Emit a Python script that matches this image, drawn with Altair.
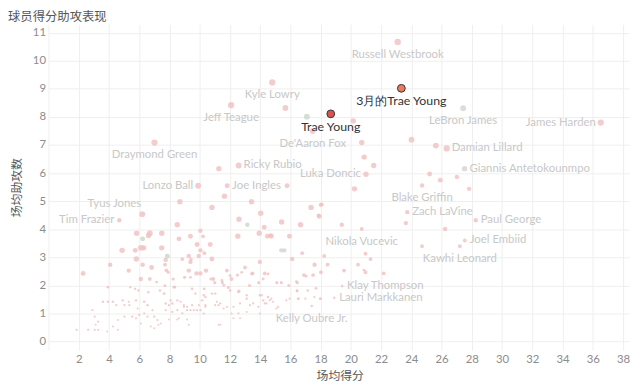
import altair as alt
import pandas as pd

# ---- labeled players: name, points per game, assists per game, size, colour group
lab_names = ["Russell Westbrook", "Kyle Lowry", "Jeff Teague", "De'Aaron Fox", "Draymond Green",
             "Ricky Rubio", "Lonzo Ball", "Joe Ingles", "Luka Doncic", "LeBron James", "James Harden",
             "Damian Lillard", "Giannis Antetokounmpo", "Blake Griffin", "Zach LaVine", "Paul George",
             "Joel Embiid", "Kawhi Leonard", "Nikola Vucevic", "Klay Thompson", "Lauri Markkanen",
             "Kelly Oubre Jr.", "Tim Frazier", "Tyus Jones"]
lab_pts = [23.1, 14.8, 12.08, 17.48, 7.01, 12.58, 9.9, 11.82, 21.0, 27.43, 36.53, 26.34, 27.52,
           24.71, 23.73, 28.26, 27.54, 27.21, 20.72, 19.42, 18.9, 17.41, 4.68, 6.2]
lab_ast = [10.67, 9.23, 8.42, 7.5, 7.09, 6.27, 5.55, 5.55, 5.96, 8.31, 7.8, 6.88, 6.16, 5.56,
           4.61, 4.32, 3.6, 3.4, 4.01, 1.98, 1.56, 1.27, 4.32, 4.54]
lab_size = [42, 40, 40, 35, 40, 35, 35, 25, 30, 35, 40, 40, 30, 20, 20, 20, 15, 15, 15, 8, 6, 6, 20, 35]
lab_grp = ["p", "p", "p", "p", "p", "p", "p", "p", "p", "s", "p", "p", "s", "p", "p", "p",
           "p", "p", "p", "p", "p", "p", "p", "p"]
lab_pos = ["below", "below", "below", "below", "below", "right", "left", "right", "left", "below",
           "left", "right", "right", "below", "right", "right", "right", "below", "below", "right",
           "right", "below", "left", "upleft"]

# ---- other players (unlabeled)
other_pts = [15.67, 11.27, 15.78, 20.16, 20.72, 20.88, 21.51, 20.24, 25.62, 24.01, 25.21, 25.92,
             27.01, 27.82, 23.64, 26.23, 24.71, 17.09,
             2.29, 4.08, 5.83, 6.7, 6.62, 7.49, 6.23, 4.87, 5.74, 6.11, 6.3, 7.49, 5.81, 6.23, 6.82,
             5.31, 6.11, 6.7, 7.86, 7.75, 7.71, 7.8, 8.52, 8.69, 8.63, 9.39, 10.05, 9.83, 10.05,
             9.28, 9.94, 9.39, 8.85, 10.31, 10.81, 10.7, 10.81, 10.22, 9.28, 9.79, 10.05, 10.42,
             11.64, 12.6, 12.52, 13.43, 14.04, 13.94, 14.27, 14.48, 14.74, 15.42, 15.94, 16.12,
             16.67, 16.78, 17.37, 13.15, 13.0, 13.5, 13.98, 14.3, 15.4, 15.6, 11.8, 12.1, 12.5,
             10.9, 11.0, 11.5, 11.9, 12.6, 13.3, 13.9, 15.1, 15.4, 15.9, 16.45, 16.45, 16.9, 17.5,
             17.6, 17.7, 18.02, 17.9, 19.4, 18.07, 17.87, 18.24, 18.46, 18.02, 19.55, 20.47, 20.97,
             21.3, 20.97, 22.17, 17.96, 14.7,
             3.93, 3.6, 3.93, 4.26, 4.48, 4.91, 5.02, 5.35, 5.31, 2.9, 3.06, 3.28, 3.12, 1.86, 2.62,
             3.06, 3.28, 3.89, 4.26, 4.59, 5.53, 5.79, 6.0, 6.12, 6.33, 6.55, 6.88, 6.99, 7.21, 7.43,
             7.75, 8.19, 8.52, 8.85, 8.96, 9.5, 9.83, 10.05, 10.38, 7.65, 8.08, 8.52, 5.02, 4.59,
             5.79, 5.9, 6.33, 6.55, 6.77, 6.99, 7.27, 8.63, 9.28, 10.16, 10.38, 11.03, 11.36, 11.58,
             12.23, 12.56, 12.67, 13.11, 13.32, 13.98, 14.2, 14.31, 14.64, 14.85, 15.07, 15.73,
             15.95, 16.49, 17.15, 17.58, 11.25, 12.23,
             9.39, 11.47, 12.01, 12.78, 13.43, 14.2, 14.52, 8.3, 9.5, 9.72, 10.27, 10.81, 11.03,
             12.01, 12.56, 13.11, 14.09, 14.52, 7.97, 8.74, 8.96, 9.17, 9.61, 9.94, 10.38, 11.14,
             11.25, 11.8, 12.67, 13.54, 13.87, 14.42, 7.75, 8.19, 9.17, 9.39, 10.27, 12.12, 13.11,
             13.98, 7.97, 8.52, 9.17, 11.36,
             16.4, 17.04, 20.86, 16.43, 14.74, 15.18, 16.56, 16.99, 18.02,
             5.41, 5.73, 5.95, 6.6, 7.15, 7.37, 7.7, 7.92, 8.25, 8.35, 9.0, 9.43, 10.74, 10.3, 11.6]
other_ast = [8.32, 6.16, 5.55, 7.86, 7.09, 6.57, 6.27, 5.44, 6.98, 7.19, 5.97, 5.75,
             5.86, 5.44, 4.22, 4.01, 3.4, 8.01,
             2.43, 2.74, 3.86, 3.86, 3.78, 3.86, 3.66, 3.25, 3.25, 3.34, 3.34, 3.34, 2.94, 2.74, 2.64,
             2.53, 2.23, 2.23, 3.04, 2.91, 2.74, 2.54, 4.16, 4.98, 3.66, 3.75, 3.95, 3.46, 3.25,
             3.05, 3.05, 2.84, 2.94, 3.15, 4.78, 3.46, 2.94, 3.75, 2.53, 2.43, 2.43, 2.53,
             5.18, 4.36, 3.75, 4.98, 4.57, 3.86, 4.07, 3.75, 3.75, 4.26, 3.75, 2.94,
             4.16, 3.15, 4.78, 4.16, 2.64, 2.43, 2.84, 2.43, 3.25, 3.25, 2.53, 2.23, 2.37,
             2.23, 2.1, 2.1, 1.93, 1.8, 2.0, 2.1, 2.1, 2.1, 2.0, 2.1, 1.8, 2.37, 2.37,
             2.74, 1.9, 4.87, 4.46, 4.16, 4.89, 4.49, 3.05, 2.74, 2.47, 2.53, 2.74, 3.13,
             2.94, 2.47, 2.43, 1.53, 3.78,
             1.94, 1.42, 1.42, 1.42, 1.3, 1.47, 1.3, 1.3, 1.42, 1.12, 0.89, 0.71, 0.6, 0.42, 0.42,
             0.42, 0.42, 0.36, 0.54, 0.42, 0.89, 0.83, 0.95, 0.65, 1.42, 1.3, 1.12, 0.89, 0.77, 0.65,
             1.36, 1.36, 1.12, 1.01, 1.24, 1.3, 1.12, 1.12, 1.3, 1.71, 1.47, 1.47, 0.89, 0.77,
             1.47, 1.18, 1.01, 0.89, 0.54, 0.48, 0.6, 0.83, 0.6, 1.47, 1.59, 1.3, 1.36, 1.18,
             1.24, 1.01, 0.83, 1.53, 1.3, 1.65, 1.47, 1.36, 1.47, 1.42, 1.18, 1.47,
             1.53, 1.53, 1.82, 1.59, 0.6, 0.83,
             2.29, 2.18, 2.35, 2.47, 2.41, 2.23, 2.41, 1.94, 1.88, 1.71, 1.65, 1.71, 1.71,
             1.82, 1.77, 1.65, 1.65, 1.59, 1.3, 1.42, 1.3, 1.24, 1.12, 1.3, 1.24, 1.42,
             1.3, 1.24, 1.36, 1.36, 1.24, 1.36, 1.12, 1.06, 1.12, 1.12, 1.0, 1.0, 1.06,
             1.0, 0.79, 0.79, 0.79, 0.6,
             2.14, 2.33, 2.55, 1.82, 1.53, 1.24, 1.53, 1.53, 1.53,
             1.94, 1.88, 1.82, 1.76, 2.12, 1.82, 1.99, 2.47, 2.23, 1.94, 2.29, 2.93, 2.23, 1.88, 2.0]
other_size = [35, 30, 25, 30, 30, 30, 30, 30, 35, 35, 25, 25,
              20, 20, 20, 20, 15, 35,
              25, 20, 30, 35, 30, 30, 25, 30, 25, 35, 30, 30, 30, 20, 25,
              20, 20, 15, 25, 20, 15, 15, 30, 30, 25, 25, 20, 25, 20,
              20, 20, 20, 15, 15, 30, 25, 25, 15, 20, 20, 20, 20,
              30, 30, 30, 30, 30, 30, 25, 25, 25, 30, 25, 20,
              30, 15, 30, 20, 15, 15, 20, 15, 20, 20, 15, 15, 10,
              15, 10, 10, 10, 10, 10, 10, 10, 10, 10, 10, 8, 15, 15,
              20, 8, 20, 25, 20, 15, 15, 15, 15, 15, 15, 15, 15,
              15, 15, 15, 6, 20,
              8, 6, 6, 6, 5, 6, 5, 5, 5, 5, 5, 5, 4, 5, 5,
              5, 5, 4, 4, 4, 5, 5, 5, 4, 6, 6, 5, 5, 5, 4,
              6, 6, 5, 5, 5, 5, 5, 5, 5, 8, 6, 6, 5, 4,
              6, 5, 5, 5, 4, 4, 4, 4, 4, 6, 6, 5, 5, 5,
              5, 5, 4, 6, 5, 6, 6, 5, 5, 5, 5, 5,
              5, 5, 6, 5, 4, 4,
              8, 8, 8, 8, 8, 8, 8, 8, 8, 6, 6, 6, 6,
              6, 6, 6, 6, 6, 5, 5, 5, 5, 5, 5, 5, 5,
              5, 5, 5, 5, 5, 5, 5, 5, 5, 5, 5, 4, 4,
              4, 4, 4, 4, 4,
              8, 8, 8, 6, 5, 5, 5, 5, 5,
              6, 6, 6, 6, 8, 6, 8, 10, 10, 8, 10, 12, 10, 8, 8]
green_idx = [17, 24, 36, 75]
gray_idx = [80, 81]

# ---- Trae Young highlighted points
trae_names = ["Trae Young", "3月的Trae Young"]
trae_pts = [18.67, 23.34]
trae_ast = [8.11, 9.02]
trae_col = ["#d9534f", "#ec7a5c"]

x_ticks = list(range(0, 39, 2))
y_ticks = list(range(0, 12))

other_grp = ["p"] * len(other_pts)
for i in green_idx:
    other_grp[i] = "g"
for i in gray_idx:
    other_grp[i] = "s"

pts_df = pd.DataFrame({
    "pts": other_pts + lab_pts,
    "ast": other_ast + lab_ast,
    "size": other_size + lab_size,
    "grp": other_grp + lab_grp,
})
lab_df = pd.DataFrame({"name": lab_names, "pts": lab_pts, "ast": lab_ast, "pos": lab_pos})
trae_df = pd.DataFrame({"name": trae_names, "pts": trae_pts, "ast": trae_ast, "col": trae_col})

xs = alt.Scale(domain=[0, 38.4], nice=False, zero=False)
ys = alt.Scale(domain=[-0.3, 11.3], nice=False, zero=False)

X = alt.X("pts:Q", scale=xs, title="场均得分",
          axis=alt.Axis(values=x_ticks, labelExpr="datum.value == 0 ? '' : datum.label",
                        labelOverlap=False, labelFlush=False,
                        titleX=295, titleY=26, titleBaseline="middle", titleAlign="center"))
Y = alt.Y("ast:Q", scale=ys, title="场均助攻数",
          axis=alt.Axis(values=y_ticks, labelOverlap=False, labelFlush=False,
                        titleX=-32, titleY=165, titleBaseline="middle",
                        titleAlign="center", titleAngle=-90))

base = alt.Chart(pts_df)
points = base.mark_circle(opacity=0.8).encode(
    x=X, y=Y,
    size=alt.Size("size:Q", scale=None),
    color=alt.Color("grp:N", scale=alt.Scale(domain=["p", "g", "s"],
                                             range=["#f0c0c0", "#c6d8c6", "#d8d2d2"]), legend=None),
)

TXT = dict(font="Lato", fontSize=11.5, color="#c8c8c8")
lab = alt.Chart(lab_df)
below = lab.mark_text(align="center", baseline="middle", dy=13, **TXT).encode(
    x=X, y=Y, text="name:N").transform_filter("datum.pos == 'below'")
right = lab.mark_text(align="left", baseline="middle", dx=5, **TXT).encode(
    x=X, y=Y, text="name:N").transform_filter("datum.pos == 'right'")
left = lab.mark_text(align="right", baseline="middle", dx=-5, **TXT).encode(
    x=X, y=Y, text="name:N").transform_filter("datum.pos == 'left'")
upleft = lab.mark_text(align="right", baseline="middle", dx=-1, dy=-10, **TXT).encode(
    x=X, y=Y, text="name:N").transform_filter("datum.pos == 'upleft'")

trae = alt.Chart(trae_df)
trae_pts_layer = trae.mark_circle(size=62, opacity=1, stroke="#333333", strokeWidth=1).encode(
    x=X, y=Y, color=alt.Color("col:N", scale=None))
trae_txt = trae.mark_text(align="center", baseline="middle", dy=13, font="Lato", fontSize=12.5,
                          color="#333333").encode(x=X, y=Y, text="name:N")

chart = alt.layer(points, below, right, left, upleft, trae_pts_layer, trae_txt).properties(
    width=588, height=330,
    autosize=alt.AutoSizeParams(type="none"),
    padding={"left": 41, "top": 14, "right": 3, "bottom": 40},
    title=alt.TitleParams("球员得分助攻表现", anchor="start", frame="group", dx=-41, offset=1,
                          fontSize=12.5, fontWeight="normal", color="#555555",
                          font="Noto Sans CJK SC"),
).configure_view(stroke=None).configure_axis(
    grid=True, gridColor="#efefef", gridWidth=1, domain=False, ticks=False,
    labelFont="Lato", labelFontSize=11.5, labelColor="#8c8c8c", labelPadding=4,
    titleFont="Noto Sans CJK SC", titleFontSize=12, titleFontWeight="normal", titleColor="#555555",
).configure_axisY(labelPadding=3)

chart.save("out.html", embed_options={"renderer": "svg", "actions": False})
